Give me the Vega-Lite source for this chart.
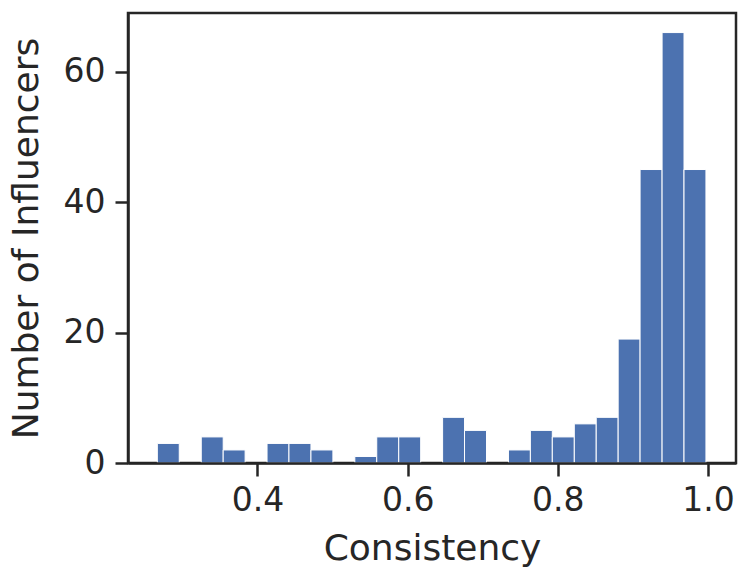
{
  "$schema": "https://vega.github.io/schema/vega-lite/v6.json",
  "width": 608,
  "height": 450,
  "autosize": {"type": "none"},
  "padding": {"left": 128, "top": 13, "right": 12, "bottom": 120},
  "background": "white",
  "config": {
    "view": {"stroke": "#262626", "strokeWidth": 2.5},
    "font": "DejaVu Sans",
    "axis": {
      "domainColor": "#262626",
      "domainWidth": 2.5,
      "tickColor": "#262626",
      "tickWidth": 2.5,
      "tickSize": 13,
      "labelColor": "#262626",
      "labelFont": "DejaVu Sans",
      "labelFontSize": 33,
      "titleColor": "#262626",
      "titleFont": "DejaVu Sans",
      "titleFontSize": 36,
      "titleFontWeight": "normal",
      "grid": false
    }
  },
  "data": {
    "values": [
      {"bin_start": 0.2660, "bin_end": 0.2952, "count": 3},
      {"bin_start": 0.3245, "bin_end": 0.3537, "count": 4},
      {"bin_start": 0.3537, "bin_end": 0.3829, "count": 2},
      {"bin_start": 0.4121, "bin_end": 0.4413, "count": 3},
      {"bin_start": 0.4413, "bin_end": 0.4706, "count": 3},
      {"bin_start": 0.4706, "bin_end": 0.4998, "count": 2},
      {"bin_start": 0.5290, "bin_end": 0.5582, "count": 1},
      {"bin_start": 0.5582, "bin_end": 0.5875, "count": 4},
      {"bin_start": 0.5875, "bin_end": 0.6167, "count": 4},
      {"bin_start": 0.6459, "bin_end": 0.6751, "count": 7},
      {"bin_start": 0.6751, "bin_end": 0.7044, "count": 5},
      {"bin_start": 0.7336, "bin_end": 0.7628, "count": 2},
      {"bin_start": 0.7628, "bin_end": 0.7920, "count": 5},
      {"bin_start": 0.7920, "bin_end": 0.8213, "count": 4},
      {"bin_start": 0.8213, "bin_end": 0.8505, "count": 6},
      {"bin_start": 0.8505, "bin_end": 0.8797, "count": 7},
      {"bin_start": 0.8797, "bin_end": 0.9089, "count": 19},
      {"bin_start": 0.9089, "bin_end": 0.9382, "count": 45},
      {"bin_start": 0.9382, "bin_end": 0.9674, "count": 66},
      {"bin_start": 0.9674, "bin_end": 0.9966, "count": 45}
    ]
  },
  "mark": {"type": "rect", "color": "#4C72B0", "stroke": "white", "strokeWidth": 1},
  "encoding": {
    "x": {
      "field": "bin_start",
      "type": "quantitative",
      "bin": "binned",
      "scale": {"domain": [0.2276, 1.0373], "nice": false, "zero": false},
      "axis": {
        "title": "Consistency",
        "values": [0.4, 0.6, 0.8, 1.0],
        "format": ".1f",
        "labelPadding": 8,
        "titlePadding": 14
      }
    },
    "x2": {"field": "bin_end"},
    "y": {
      "field": "count",
      "type": "quantitative",
      "scale": {"domain": [0, 69], "nice": false},
      "axis": {
        "title": "Number of Influencers",
        "values": [0, 20, 40, 60],
        "labelPadding": 10,
        "titlePadding": 18
      }
    }
  }
}
